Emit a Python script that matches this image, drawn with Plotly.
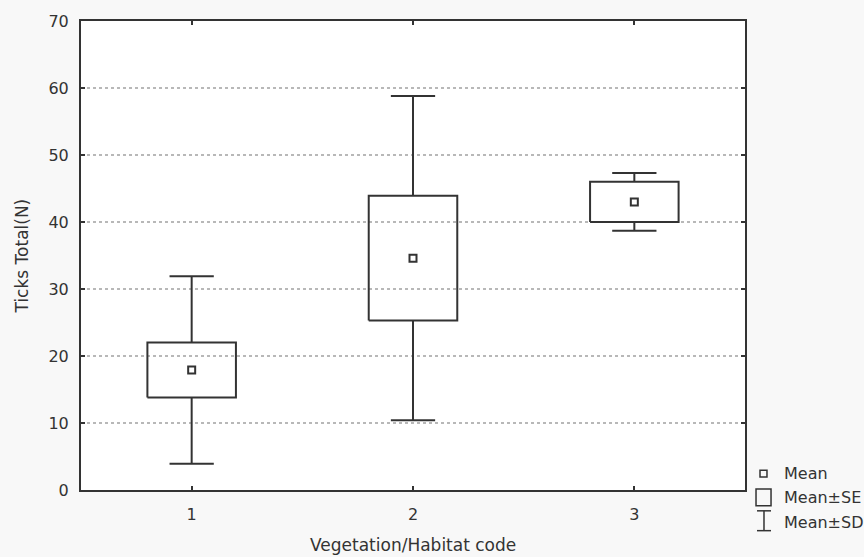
import plotly.graph_objects as go

# ---- data ----
groups = [1, 2, 3]
group_labels = ["1", "2", "3"]
means = [17.9, 34.6, 43.0]
se = [4.1, 9.3, 3.0]
sd = [14.0, 24.2, 4.3]
y_ticks = [0, 10, 20, 30, 40, 50, 60, 70]

INK = "#333333"
TXT = "#333333"
FONT = "DejaVu Sans"
BOX_HALF = 0.2
CAP_HALF = 0.1

fig = go.Figure()

# whiskers (SD) drawn outside the SE box, with caps
wx, wy = [], []
for g, m, s, d in zip(groups, means, se, sd):
    wx += [g, g, None, g, g, None, g - CAP_HALF, g + CAP_HALF, None, g - CAP_HALF, g + CAP_HALF, None]
    wy += [m + s, m + d, None, m - s, m - d, None, m + d, m + d, None, m - d, m - d, None]
fig.add_trace(go.Scatter(x=wx, y=wy, mode="lines", line=dict(color=INK, width=2),
                         hoverinfo="skip", showlegend=False))

# SE boxes
bx, by = [], []
for g, m, s in zip(groups, means, se):
    bx += [g - BOX_HALF, g + BOX_HALF, g + BOX_HALF, g - BOX_HALF, g - BOX_HALF, None]
    by += [m - s, m - s, m + s, m + s, m - s, None]
fig.add_trace(go.Scatter(x=bx, y=by, mode="lines", line=dict(color=INK, width=2),
                         hoverinfo="skip", showlegend=False))

# means
fig.add_trace(go.Scatter(x=groups, y=means, mode="markers",
                         marker=dict(symbol="square-open", size=7, color=INK, line=dict(width=2, color=INK)),
                         showlegend=False))

axis_common = dict(showline=True, linecolor=INK, linewidth=2, mirror="ticks",
                   ticks="inside", ticklen=4, tickwidth=1.5, tickcolor=INK,
                   tickfont=dict(family=FONT, size=16, color=TXT), zeroline=False)

fig.update_xaxes(range=[0.5, 3.5], tickvals=groups, ticktext=group_labels,
                 showgrid=False, ticklabelstandoff=9, **axis_common)
fig.update_yaxes(range=[0, 70], tickvals=y_ticks, showgrid=True, gridcolor="#b8b8b8",
                 griddash="dot", gridwidth=1.5, ticklabelstandoff=7, **axis_common)

title_font = dict(family=FONT, size=17, color=TXT)
leg_font = dict(family=FONT, size=16, color=TXT)
annotations = [
    dict(text="Vegetation/Habitat code", x=0.5, y=-0.1163, xref="paper", yref="paper",
         xanchor="center", yanchor="middle", showarrow=False, font=title_font),
    dict(text="Ticks Total(N)", x=-0.0889, y=0.5, xref="paper", yref="paper", textangle=-90,
         xanchor="center", yanchor="middle", showarrow=False, font=title_font),
    dict(text="Mean", x=1.0557, y=0.0359, xref="paper", yref="paper",
         xanchor="left", yanchor="middle", showarrow=False, font=leg_font),
    dict(text="Mean±SE", x=1.0557, y=-0.0169, xref="paper", yref="paper",
         xanchor="left", yanchor="middle", showarrow=False, font=leg_font),
    dict(text="Mean±SD", x=1.0557, y=-0.0698, xref="paper", yref="paper",
         xanchor="left", yanchor="middle", showarrow=False, font=leg_font),
]

lg = dict(color=INK, width=1.5)
shapes = [
    dict(type="rect", xref="paper", yref="paper", x0=1.0226, x1=1.0331, y0=0.0275, y1=0.0423, line=lg),
    dict(type="rect", xref="paper", yref="paper", x0=1.0166, x1=1.0392, y0=-0.0338, y1=0.0021, line=lg),
    dict(type="line", xref="paper", yref="paper", x0=1.0286, x1=1.0286, y0=-0.0867, y1=-0.0444, line=lg),
    dict(type="line", xref="paper", yref="paper", x0=1.0181, x1=1.0392, y0=-0.0444, y1=-0.0444, line=lg),
    dict(type="line", xref="paper", yref="paper", x0=1.0181, x1=1.0392, y0=-0.0867, y1=-0.0867, line=lg),
]

fig.update_layout(
    width=864, height=557,
    margin=dict(l=81, r=119, t=17, b=67, pad=0),
    paper_bgcolor="#f8f8f8", plot_bgcolor="white",
    annotations=annotations, shapes=shapes,
    font=dict(family=FONT, color=TXT),
    showlegend=False,
)

fig.write_html("out.html", config={"displayModeBar": False},
               post_script="document.body.style.margin='0';document.body.style.overflow='hidden';")
